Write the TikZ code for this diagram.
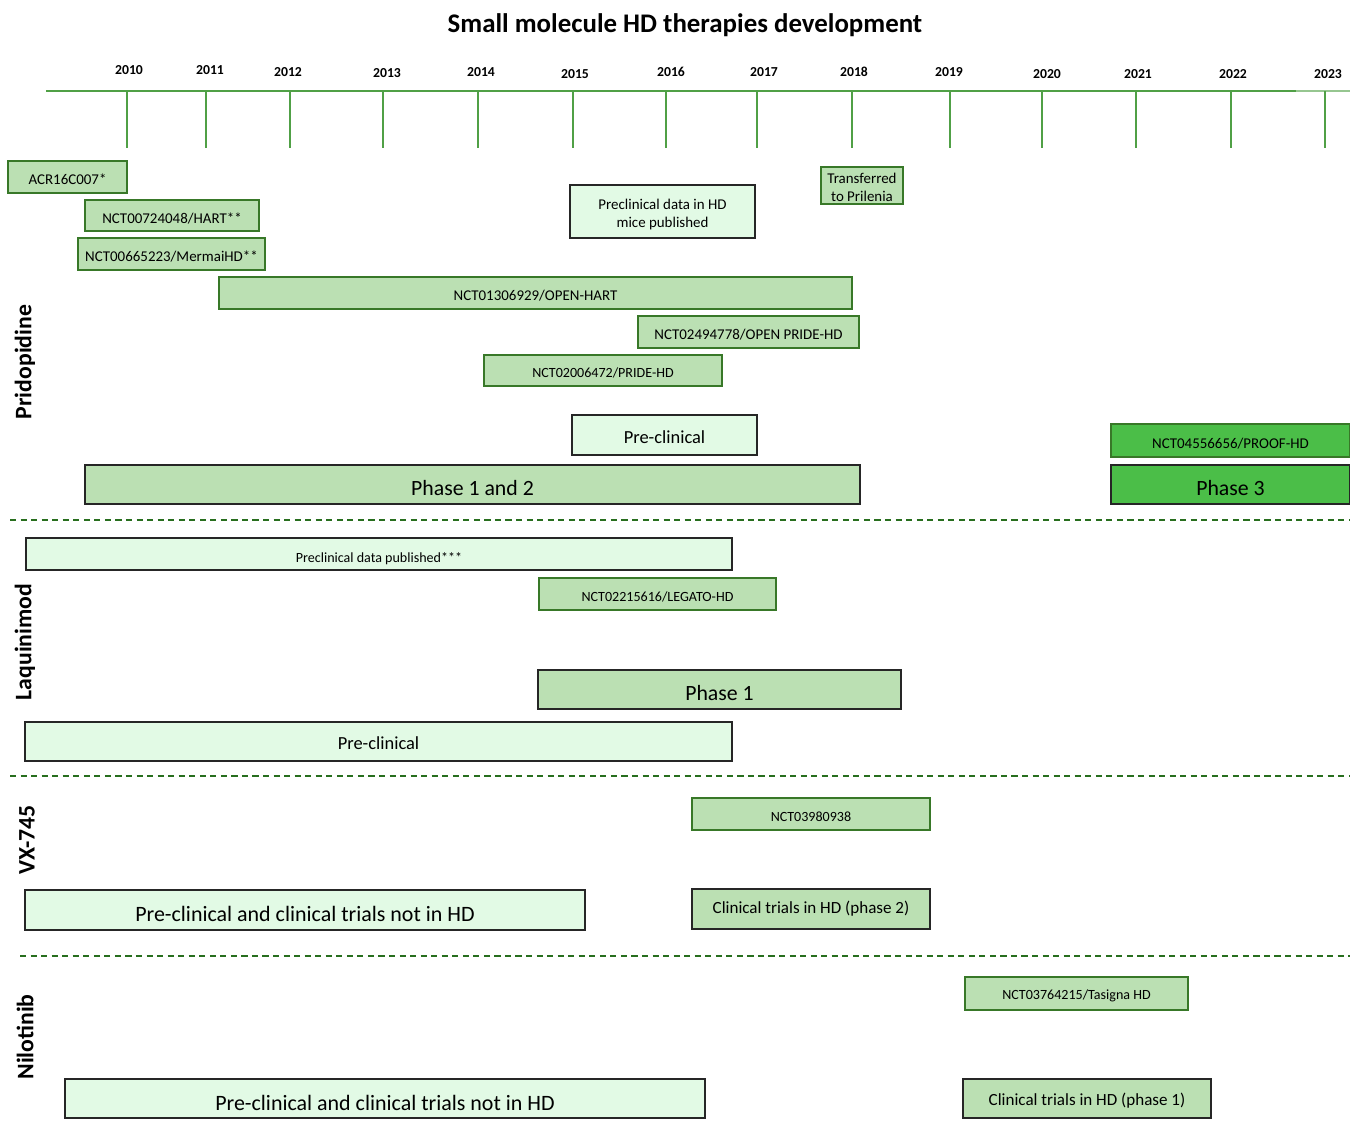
\documentclass[tikz,border=0pt]{standalone}
\usepackage{fontspec}
\setmainfont{Carlito}
\definecolor{trialfill}{RGB}{187,224,179}
\definecolor{trialedge}{RGB}{56,120,40}
\definecolor{prefill}{RGB}{226,250,229}
\definecolor{latefill}{RGB}{75,190,72}
\definecolor{axisgreen}{RGB}{80,160,70}
\definecolor{sepgreen}{RGB}{40,110,30}
\tikzset{
	trial/.style = {draw = trialedge, fill = trialfill, line width = 0.8pt, font = \fontsize{8.5}{10}\selectfont},
	phasebox/.style = {draw = black!85, fill = trialfill, line width = 0.8pt, font = \fontsize{12.4}{14}\selectfont},
	prebox/.style = {draw = black!85, fill = prefill, line width = 0.8pt, font = \fontsize{10.5}{12}\selectfont},
	sep/.style = {draw = sepgreen, line width = 0.8pt, dash pattern = on 3.5pt off 2.5pt},
	drug/.style = {rotate = 90, font = \fontsize{13.5}{15}\selectfont\bfseries},
}

\begin{document}
\begin{tikzpicture}[x = 0.02cm, y = -0.02cm]
		\useasboundingbox (0,0) rectangle (1350,1133);
		\node (title) [font = \fontsize{15.3}{17}\selectfont\bfseries] at (685,25) {Small molecule HD therapies development};
		% time axis
		\draw [axisgreen, line width = 0.9pt] (46,91) -- (1296,91);
		\draw [axisgreen!60, line width = 0.9pt] (1296,91) -- (1350,91);
		\foreach \x/\lx/\ly/\yr in {127/129/70/2010, 206/210/70/2011, 290/288/72/2012, 383/387/73/2013, 478/481/72/2014, 573/575/74/2015, 666/671/72/2016, 757/764/72/2017, 852/854/72/2018, 950/949/72/2019, 1042/1047/74/2020, 1136/1138/74/2021, 1231/1233/74/2022, 1325/1328/74/2023}{
				\draw [axisgreen, line width = 0.9pt] (\x,91) -- (\x,148);
				\node (y\yr) [font = \fontsize{7.8}{9}\selectfont\bfseries] at (\lx,\ly) {\yr};
			}
		%
		% Pridopidine
		\node (prido) [drug] at (25,362) {Pridopidine};
		\draw [trial] (8,161) rectangle (127,193) node [midway, yshift = -1.5] (acr) {ACR16C007*};
		\draw [trial] (85,200) rectangle (259,231) node [midway, yshift = -1.5] (hart) {NCT00724048/HART**};
		\draw [trial] (78,238) rectangle (265,270) node [midway, yshift = -1.5] (mermai) {NCT00665223/MermaiHD**};
		\draw [trial] (219,277) rectangle (852,309) node [midway, yshift = -1.5] (openhart) {NCT01306929/OPEN-HART};
		\draw [trial] (638,316) rectangle (859,348) node [midway, yshift = -1.5] (openpride) {NCT02494778/OPEN PRIDE-HD};
		\draw [trial, font = \fontsize{8}{10}\selectfont] (484,355) rectangle (722,386) node [midway, yshift = -1.5] (pride) {NCT02006472/PRIDE-HD};
		\draw [prebox, font = \fontsize{8.5}{10.2}\selectfont] (570,185) rectangle (755,238) node [midway, yshift = -1.5, align = center] (mice) {Preclinical data in HD\\mice published};
		\draw [trial, font = \fontsize{8.5}{10.2}\selectfont] (821,167) rectangle (903,204) node [midway, yshift = -1, align = center] (prilenia) {Transferred\\to Prilenia};
		\draw [prebox] (572,415) rectangle (757,455) node [midway, yshift = -1] (pridopre) {Pre-clinical};
		\draw [phasebox] (85,465) rectangle (860,504) node [midway, yshift = -2] (pridophase) {Phase 1 and 2};
		\draw [trial, fill = latefill] (1111,424) rectangle (1350,457) node [midway, yshift = -1.5] (proof) {NCT04556656/PROOF-HD};
		\draw [phasebox, fill = latefill] (1111,465) rectangle (1350,504) node [midway, yshift = -2] (phasethree) {Phase 3};
		\draw [sep] (10,520) -- (1350,520);
		%
		% Laquinimod
		\node (laqui) [drug] at (25,642) {Laquinimod};
		\draw [prebox, font = \fontsize{8}{10}\selectfont] (26,538) rectangle (732,570) node [midway, yshift = -2.5] (laquidata) {Preclinical data published***};
		\draw [trial, font = \fontsize{8}{10}\selectfont] (539,578) rectangle (776,610) node [midway, yshift = -1.5] (legato) {NCT02215616/LEGATO-HD};
		\draw [phasebox] (538,670) rectangle (901,709) node [midway, yshift = -2] (laquiphase) {Phase 1};
		\draw [prebox] (25,722) rectangle (732,761) node [midway, yshift = -1] (laquipre) {Pre-clinical};
		\draw [sep] (10,776) -- (1350,776);
		%
		% VX-745
		\node (vx) [drug] at (27,840) {VX-745};
		\draw [trial, font = \fontsize{8}{10}\selectfont] (692,798) rectangle (930,830) node [midway, yshift = -1.5] (vxtrial) {NCT03980938};
		\draw [prebox, font = \fontsize{12.5}{14}\selectfont] (25,890) rectangle (585,930) node [midway, yshift = -2] (vxpre) {Pre-clinical and clinical trials not in HD};
		\draw [phasebox, font = \fontsize{9.7}{12}\selectfont] (692,889) rectangle (930,929) node [midway] (vxphase) {Clinical trials in HD (phase 2)};
		\draw [sep] (20,956) -- (1350,956);
		%
		% Nilotinib
		\node (nilo) [drug] at (25,1037) {Nilotinib};
		\draw [trial, font = \fontsize{8}{10}\selectfont] (965,977) rectangle (1188,1010) node [midway, yshift = -1.5] (tasigna) {NCT03764215/Tasigna HD};
		\draw [prebox, font = \fontsize{12.5}{14}\selectfont] (65,1079) rectangle (705,1118) node [midway, yshift = -2.5] (nilopre) {Pre-clinical and clinical trials not in HD};
		\draw [phasebox, font = \fontsize{9.7}{12}\selectfont] (963,1079) rectangle (1211,1118) node [midway, yshift = -1] (nilophase) {Clinical trials in HD (phase 1)};
	\end{tikzpicture}
\end{document}
